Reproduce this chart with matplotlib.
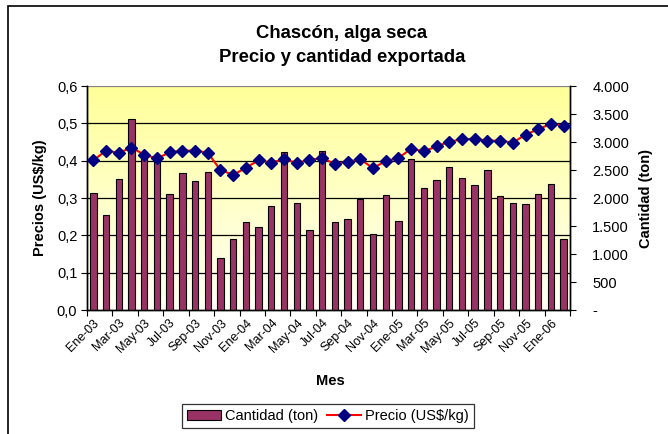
import matplotlib
matplotlib.use("Agg")
import matplotlib.pyplot as plt
import numpy as np
from matplotlib.patches import Patch, Rectangle
from matplotlib.lines import Line2D

plt.rcParams['font.family'] = ['Liberation Sans', 'DejaVu Sans']

# months Ene-03 .. Feb-06
mes_nombres = ['Ene', 'Feb', 'Mar', 'Abr', 'May', 'Jun',
               'Jul', 'Ago', 'Sep', 'Oct', 'Nov', 'Dic']
meses = [f"{mes_nombres[i % 12]}-{3 + i // 12:02d}" for i in range(38)]

cantidad = [2090, 1695, 2340, 3403, 2780, 2680, 2072, 2442, 2300, 2466,
            937, 1272, 1564, 1487, 1857, 2824, 1916, 1421, 2842, 1564,
            1627, 1985, 1361, 2048, 1588, 2699, 2173, 2322, 2549, 2358,
            2233, 2507, 2030, 1916, 1899, 2066, 2251, 1272]

precio = [0.401, 0.427, 0.421, 0.435, 0.416, 0.406, 0.422, 0.427, 0.427, 0.421,
          0.375, 0.362, 0.381, 0.401, 0.395, 0.404, 0.394, 0.402, 0.407, 0.391,
          0.397, 0.404, 0.380, 0.399, 0.407, 0.432, 0.425, 0.438, 0.451, 0.457,
          0.459, 0.453, 0.454, 0.448, 0.470, 0.484, 0.499, 0.494]

precio_ticks = [0.0, 0.1, 0.2, 0.3, 0.4, 0.5, 0.6]
precio_labels = ['0,0', '0,1', '0,2', '0,3', '0,4', '0,5', '0,6']
cant_ticks = [0, 500, 1000, 1500, 2000, 2500, 3000, 3500, 4000]
cant_labels = ['-', '500', '1.000', '1.500', '2.000', '2.500', '3.000', '3.500', '4.000']

W, H = 668, 434
fig = plt.figure(figsize=(W / 100, H / 100), dpi=100)

# outer chart border (only left/top visible in the crop)
fig.patches.append(Rectangle((8 / W, -0.1), 1.2, (H - 6) / H + 0.1,
                             transform=fig.transFigure, fill=False,
                             edgecolor='black', lw=1.2))

x0, x1, y0, y1 = 87, 570, 86, 310
ax = fig.add_axes([x0 / W, 1 - y1 / H, (x1 - x0) / W, (y1 - y0) / H])
ax2 = ax.twinx()

x = np.arange(len(meses))

# background gradient, pale at bottom -> yellow at top
cmap = matplotlib.colors.LinearSegmentedColormap.from_list(
    'bg', [(1, 1, 0.97), (1, 1, 0.6)])
ax.imshow(np.linspace(0, 1, 256).reshape(-1, 1), extent=[-0.5, 37.5, 0, 0.6],
          aspect='auto', cmap=cmap, origin='lower', zorder=0)
for v in precio_ticks[1:-1]:
    ax.axhline(v, color='black', lw=0.9, zorder=1)
ax.axhline(0.6, color='#808080', lw=0.9, zorder=1)

ax2.bar(x, cantidad, width=0.5, color='#993366', edgecolor='black',
        lw=0.8, zorder=2)
ax2.plot(x, precio, color='red', lw=1.5, marker='D', markersize=6.5,
         markerfacecolor='#000080', markeredgecolor='#000080',
         transform=ax.transData, zorder=3, clip_on=False)

ax.set_xlim(-0.5, 37.5)
ax.set_ylim(0, 0.6)
ax2.set_ylim(0, 4000)

ax.set_yticks(precio_ticks)
ax.set_yticklabels(precio_labels, fontsize=10.5)
ax2.set_yticks(cant_ticks)
ax2.set_yticklabels(cant_labels, fontsize=10.5)

ax.set_xticks(np.arange(-0.5, 38, 2))
ax.set_xticklabels([])
ax.set_xticks(x[::2], minor=True)
ax.set_xticklabels(meses[::2], minor=True, rotation=45, ha='right',
                   va='top', rotation_mode='anchor', fontsize=9)
ax.tick_params(axis='x', which='minor', length=0, pad=5)
ax.tick_params(axis='x', which='major', length=4, direction='out')
ax.tick_params(axis='y', length=4, direction='out', pad=3)
ax2.tick_params(axis='y', length=4, direction='out', pad=12)

for a in (ax, ax2):
    a.spines['top'].set_visible(False)
    for s in ('left', 'right', 'bottom'):
        a.spines[s].set_linewidth(1.0)

ax.set_ylabel('Precios (US$/kg)', fontsize=10.5, fontweight='bold', labelpad=7)
ax2.set_ylabel('Cantidad (ton)', fontsize=10.5, fontweight='bold', rotation=90,
               labelpad=7)
fig.text(330 / W, 1 - 381 / H, 'Mes', fontsize=10.5, fontweight='bold',
         ha='center', va='center')

fig.text(342 / W, 1 - 33 / H, 'Chascón, alga seca', fontsize=13.3,
         fontweight='bold', ha='center', va='center')
fig.text(342 / W, 1 - 57 / H, 'Precio y cantidad exportada', fontsize=13.3,
         fontweight='bold', ha='center', va='center')

handles = [Patch(facecolor='#993366', edgecolor='black', lw=0.8),
           Line2D([0], [0], color='red', lw=1.5, marker='D', markersize=6,
                  markerfacecolor='#000080', markeredgecolor='#000080')]
leg = fig.legend(handles, ['Cantidad (ton)', 'Precio (US$/kg)'], ncol=2,
                 loc='center', bbox_to_anchor=(328 / W, 1 - 416 / H),
                 fontsize=10.5, frameon=True, fancybox=False, edgecolor='black',
                 handlelength=2.3, handletextpad=0.3, columnspacing=0.6,
                 borderpad=0.35, handleheight=0.7)
leg.get_frame().set_linewidth(0.9)

fig.savefig('out.png', dpi=100)
